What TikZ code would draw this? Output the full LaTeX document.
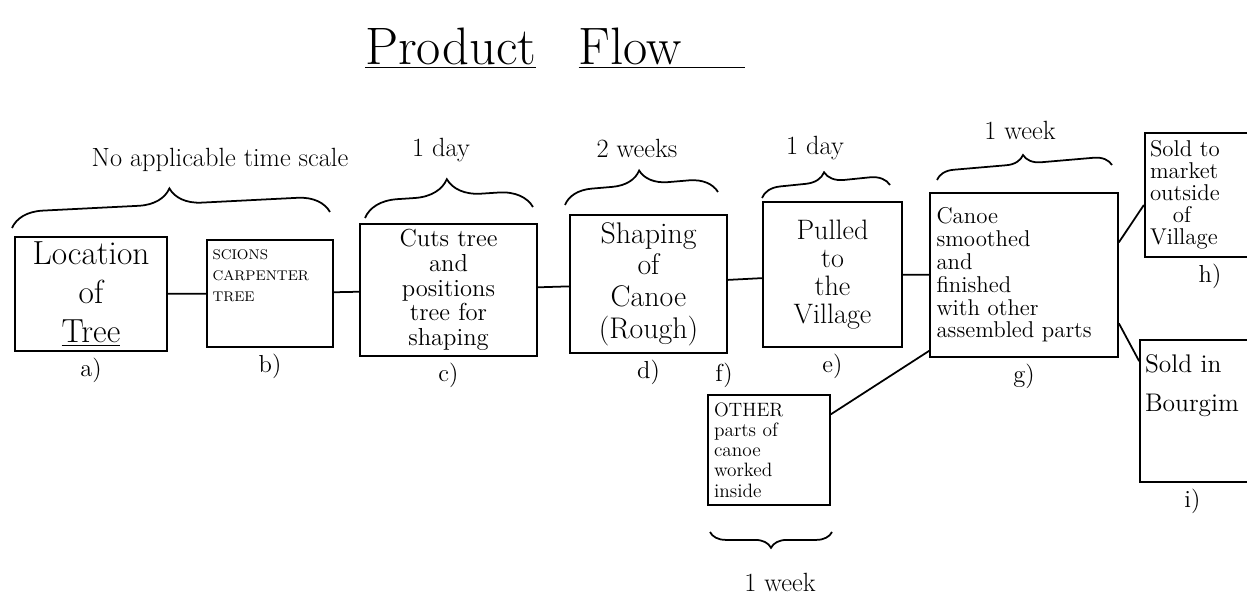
\documentclass[tikz,border=0pt]{standalone}
\usepackage{tikz}
\usetikzlibrary{decorations.pathreplacing}
\tikzset{
  stage/.style={rectangle, draw=black, line width=1pt, inner sep=3pt, align=center},
  line/.style={draw, line width=1pt},
  tuborg/.style={decorate, line width=1pt, decoration={brace, amplitude=#1}},
  tubnode/.style={font=\fontsize{15}{17}\selectfont},
  tag/.style={font=\fontsize{14}{16}\selectfont},
  every label/.style={tag}
}

\begin{document}
\begin{tikzpicture}[x=0.02cm,y=-0.02cm]
    \clip (0,0) rectangle (1247,594);
    % Title
    \node (title) at (555,48) {\fontsize{30}{32}\selectfont\underline{Product}\hspace{0.8em}\underline{Flow\hspace{1.2em}}};
    % Stages of the canoe
    \node[stage, minimum width=3.04cm, minimum height=2.16cm, text width=2.8cm,
          font=\fontsize{19}{22}\selectfont, label={below:a)}] (a) at (91,294) {Location\\of\\\underline{Tree}};
    \node[stage, minimum width=2.52cm, minimum height=2.14cm, text width=2.3cm, align=left,
          text depth=1.55cm, font=\fontsize{8}{12}\selectfont, label={below:b)}] (b) at (270,293.5) {SCIONS\\CARPENTER\\TREE};
    \node[stage, minimum width=3.54cm, minimum height=2.48cm, text width=3.3cm,
          font=\fontsize{14}{14}\selectfont, label={below:c)}] (c) at (448.5,290) {Cuts tree\\and\\positions\\tree for\\shaping};
    \node[stage, minimum width=3.14cm, minimum height=2.76cm, text width=2.9cm,
          font=\fontsize{17}{18}\selectfont, label={below:d)}] (d) at (648.5,284) {Shaping\\of\\Canoe\\(Rough)};
    \node[stage, minimum width=2.78cm, minimum height=2.9cm, text width=2.55cm,
          font=\fontsize{16}{16}\selectfont, label={below:e)}] (e) at (832.5,274.5) {Pulled\\to\\the\\Village};
    \node[stage, minimum width=2.44cm, minimum height=2.2cm, text width=2.2cm, align=left,
          font=\fontsize{11}{11.5}\selectfont, label={[xshift=-0.9cm]above:f)}] (f) at (769,450) {OTHER\\parts of\\canoe\\worked\\inside};
    \node[stage, minimum width=3.76cm, minimum height=3.28cm, text width=3.5cm, align=left,
          font=\fontsize{13}{13}\selectfont, label={below:g)}] (g) at (1024,275) {Canoe\\smoothed\\and\\finished\\with other\\assembled parts};
    \node[stage, minimum width=2.6cm, minimum height=2.48cm, text width=2.4cm, align=left,
          font=\fontsize{13}{12.5}\selectfont, label={below:h)}] (h) at (1210,195) {Sold to\\market\\outside\\\hspace{1em}of\\Village};
    \node[stage, minimum width=2.7cm, minimum height=2.84cm, text width=2.5cm, align=left, inner xsep=2pt,
          text depth=1.9cm, font=\fontsize{14.5}{22}\selectfont, label={[xshift=-0.3cm]below:i)}] (i) at (1207.5,411) {Sold in\\Bourgim};
    % Connectors
    \draw[line] (a) -- (b);
    \draw[line] (b) -- (c);
    \draw[line] (c) -- (d);
    \draw[line] (d) -- (e);
    \draw[line] (e) -- (g);
    \draw[line] (f.30) -- ([yshift=0.14cm]g.south west);
    \draw[line] (g.19) -- ([yshift=-0.2cm]h.west);
    \draw[line] (g.-27) -- ([yshift=-0.44cm]i.north west);
    % Time scale braces
    \draw[tuborg=18pt] (12,228) -- (330,212);
    \node[tubnode] (scaleab) at (220,160) {No applicable time scale};
    \draw[tuborg=19pt] (365,218) -- (533,207);
    \node[tubnode] (dayc) at (441,150) {1 day};
    \draw[tuborg=16pt] (565,205) -- (718,192);
    \node[tubnode] (weeksd) at (637,148) {2 weeks};
    \draw[tuborg=11pt] (762,198) -- (890,185);
    \node[tubnode] (daye) at (815,148) {1 day};
    \draw[tuborg=10pt] (937,180) -- (1112,165);
    \node[tubnode] (weekg) at (1020,130) {1 week};
    \draw[tuborg=9pt] (832,532) -- (710,532);
    \node[tubnode] (weekf) at (780,582) {1 week};
\end{tikzpicture}
\end{document}
